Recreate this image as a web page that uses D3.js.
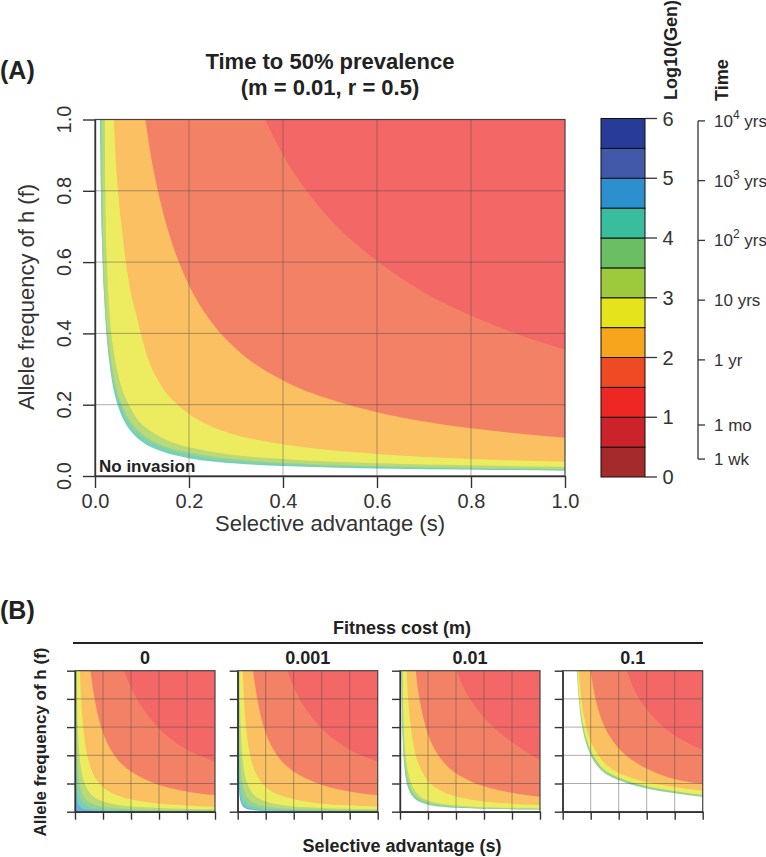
<!DOCTYPE html>
<html><head><meta charset="utf-8">
<script src="https://cdn.jsdelivr.net/npm/d3@7"></script>
<style>body{margin:0;background:#fff} svg text{font-family:Arial,"Liberation Sans",Helvetica,sans-serif}</style>
</head><body><svg id="c" width="766" height="857"></svg>
<script>
// ---------- data ----------
const legendBreaks = [0,0.5,1,1.5,2,2.5,3,3.5,4,4.5,5,5.5,6];
const legendColors = ["#A52A2B","#CC2229","#EE2624","#EE4B24","#F8A51E","#E5E41C","#9DC93C","#6BBF62","#38BD9D","#2B90CD","#4259A9","#283C97"];
const legendTicks = [0,1,2,3,4,5,6];
const timeTickValues = [5.96,4.96,3.96,2.96,1.96,0.87,0.30];
const timeTickLabels = [["10","4"," yrs"],["10","3"," yrs"],["10","2"," yrs"],["10 yrs"],["1 yr"],["1 mo"],["1 wk"]];
const axisTicks = [0,0.2,0.4,0.6,0.8,1.0];
const costLabels = ["0","0.001","0.01","0.1"];

// Panel A (m = 0.01): contour boundaries [s, f] for log10(Gen) levels
const A_45 = [[0.0105,1],[0.0125,0.8],[0.015,0.66],[0.02,0.49],[0.025,0.39],[0.03,0.325],[0.04,0.24],[0.05,0.192],[0.065,0.147],[0.08,0.12],[0.1,0.096],[0.14,0.07],[0.2,0.05],[0.3,0.035],[0.4,0.028],[0.56,0.0216],[0.7,0.019],[0.85,0.017],[1,0.015]];
const A_40 = [[0.012,1],[0.013,0.8],[0.016,0.62],[0.02,0.5],[0.03,0.34],[0.04,0.26],[0.054,0.2],[0.07,0.155],[0.09,0.122],[0.12,0.093],[0.16,0.072],[0.22,0.055],[0.3,0.042],[0.45,0.03],[0.6,0.025],[0.8,0.02],[1,0.017]];
const A_35 = [[0.015,1],[0.016,0.8],[0.018,0.64],[0.022,0.5],[0.03,0.37],[0.04,0.28],[0.05,0.225],[0.06,0.19],[0.08,0.145],[0.1,0.118],[0.14,0.088],[0.2,0.066],[0.3,0.047],[0.45,0.034],[0.6,0.028],[0.8,0.023],[1,0.02]];
const A_30 = [[0.021,1],[0.022,0.8],[0.025,0.62],[0.03,0.48],[0.04,0.35],[0.05,0.28],[0.06,0.235],[0.072,0.2],[0.09,0.16],[0.12,0.125],[0.16,0.097],[0.22,0.075],[0.3,0.058],[0.4,0.048],[0.6,0.036],[0.8,0.03],[1,0.026]];
const A_25 = [[0.04,1],[0.045,0.87],[0.055,0.72],[0.07,0.56],[0.09,0.44],[0.11,0.34],[0.14,0.255],[0.18,0.195],[0.22,0.157],[0.28,0.123],[0.35,0.1],[0.45,0.08],[0.6,0.062],[0.8,0.048],[1,0.04]];
const A_20 = [[0.107,1],[0.12,0.89],[0.14,0.765],[0.17,0.63],[0.2,0.535],[0.25,0.428],[0.3,0.357],[0.4,0.268],[0.5,0.215],[0.6,0.179],[0.7,0.153],[0.8,0.134],[0.9,0.119],[1,0.107]];
const A_15 = [[0.362,1],[0.4,0.9],[0.45,0.8],[0.5,0.72],[0.6,0.603],[0.7,0.515],[0.8,0.45],[0.9,0.397],[1,0.355]];

// Panel B, m = 0
const B0_45 = [[0.002,1],[0.003,0.5],[0.005,0.28],[0.008,0.17],[0.012,0.11],[0.02,0.065],[0.04,0.032],[0.08,0.016],[0.2,0.007],[0.5,0.003],[1,0.0015]];
const B0_40 = [[0.004,1],[0.006,0.6],[0.009,0.4],[0.013,0.27],[0.02,0.17],[0.03,0.115],[0.05,0.07],[0.08,0.044],[0.15,0.024],[0.3,0.012],[0.6,0.006],[1,0.004]];
const B0_35 = [[0.007,1],[0.009,0.75],[0.012,0.55],[0.016,0.41],[0.022,0.3],[0.03,0.22],[0.05,0.135],[0.08,0.085],[0.12,0.058],[0.2,0.035],[0.4,0.018],[0.7,0.011],[1,0.008]];
const B0_30 = [[0.012,1],[0.015,0.8],[0.02,0.62],[0.03,0.43],[0.05,0.27],[0.07,0.2],[0.1,0.14],[0.15,0.095],[0.2,0.072],[0.3,0.05],[0.5,0.031],[0.7,0.023],[1,0.017]];
const B0_25 = [[0.035,1],[0.04,0.87],[0.05,0.7],[0.07,0.5],[0.1,0.35],[0.14,0.25],[0.2,0.175],[0.3,0.117],[0.4,0.088],[0.6,0.058],[0.8,0.044],[1,0.035]];
const B0_20 = [[0.11,1],[0.13,0.86],[0.16,0.7],[0.2,0.56],[0.25,0.45],[0.3,0.375],[0.4,0.285],[0.5,0.23],[0.6,0.19],[0.7,0.163],[0.8,0.143],[0.9,0.128],[1,0.118]];
const B0_15 = [[0.35,1],[0.4,0.88],[0.5,0.71],[0.6,0.59],[0.7,0.505],[0.8,0.44],[0.9,0.393],[1,0.355]];

// Panel B, m = 0.001
const B1_50 = [[0.003,1],[0.004,0.5],[0.006,0.3],[0.01,0.16],[0.015,0.1],[0.025,0.06],[0.04,0.035],[0.08,0.015],[0.2,0.006],[1,0.002]];
const B1_45 = [[0.004,1],[0.005,0.6],[0.007,0.38],[0.011,0.22],[0.016,0.14],[0.025,0.085],[0.04,0.05],[0.08,0.024],[0.2,0.01],[0.5,0.005],[1,0.003]];
const B1_40 = [[0.005,1],[0.007,0.65],[0.01,0.44],[0.014,0.3],[0.02,0.2],[0.03,0.13],[0.05,0.08],[0.08,0.05],[0.15,0.027],[0.3,0.014],[0.6,0.008],[1,0.005]];
const B1_35 = [[0.008,1],[0.01,0.75],[0.013,0.56],[0.017,0.42],[0.023,0.31],[0.03,0.23],[0.05,0.14],[0.08,0.088],[0.12,0.06],[0.2,0.037],[0.4,0.019],[0.7,0.012],[1,0.009]];
const B1_30 = [[0.013,1],[0.016,0.8],[0.021,0.62],[0.03,0.44],[0.05,0.27],[0.07,0.2],[0.1,0.14],[0.15,0.095],[0.2,0.072],[0.3,0.05],[0.5,0.031],[0.7,0.023],[1,0.018]];
const B1_25 = [[0.036,1],[0.041,0.87],[0.051,0.7],[0.07,0.51],[0.1,0.355],[0.14,0.253],[0.2,0.177],[0.3,0.118],[0.4,0.089],[0.6,0.059],[0.8,0.045],[1,0.036]];
const B1_20 = [[0.11,1],[0.13,0.86],[0.16,0.7],[0.2,0.56],[0.25,0.45],[0.3,0.375],[0.4,0.285],[0.5,0.23],[0.6,0.19],[0.7,0.163],[0.8,0.143],[0.9,0.128],[1,0.118]];
const B1_15 = [[0.354,1],[0.4,0.885],[0.5,0.71],[0.6,0.59],[0.7,0.505],[0.8,0.44],[0.9,0.393],[1,0.355]];

// Panel B, m = 0.01
const B2_45 = [[0.011,1],[0.013,0.8],[0.016,0.63],[0.02,0.5],[0.03,0.33],[0.04,0.245],[0.05,0.195],[0.07,0.14],[0.1,0.098],[0.14,0.07],[0.2,0.05],[0.3,0.035],[0.5,0.024],[0.7,0.019],[1,0.015]];
const B2_40 = [[0.013,1],[0.015,0.8],[0.018,0.62],[0.023,0.48],[0.03,0.36],[0.04,0.27],[0.055,0.2],[0.07,0.155],[0.1,0.11],[0.14,0.079],[0.2,0.057],[0.3,0.04],[0.5,0.027],[0.7,0.021],[1,0.017]];
const B2_35 = [[0.016,1],[0.018,0.8],[0.021,0.64],[0.026,0.5],[0.033,0.38],[0.045,0.28],[0.06,0.21],[0.08,0.155],[0.11,0.115],[0.15,0.085],[0.2,0.065],[0.3,0.045],[0.5,0.03],[0.7,0.024],[1,0.02]];
const B2_30 = [[0.019,1],[0.021,0.82],[0.025,0.66],[0.03,0.53],[0.04,0.4],[0.05,0.32],[0.065,0.25],[0.085,0.19],[0.11,0.145],[0.15,0.105],[0.2,0.08],[0.3,0.056],[0.5,0.037],[0.7,0.029],[1,0.024]];
const B2_25 = [[0.048,1],[0.053,0.88],[0.062,0.75],[0.075,0.62],[0.09,0.51],[0.11,0.41],[0.14,0.32],[0.18,0.245],[0.23,0.19],[0.3,0.145],[0.4,0.108],[0.55,0.08],[0.75,0.06],[1,0.047]];
const B2_20 = [[0.112,1],[0.125,0.89],[0.145,0.77],[0.17,0.65],[0.2,0.55],[0.25,0.44],[0.3,0.365],[0.4,0.272],[0.5,0.218],[0.6,0.18],[0.7,0.154],[0.8,0.134],[0.9,0.118],[1,0.106]];
const B2_15 = [[0.405,1],[0.45,0.89],[0.5,0.8],[0.6,0.67],[0.7,0.57],[0.8,0.495],[0.9,0.425],[1,0.367]];

// Panel B, m = 0.1
const B3_45 = [[0.1,1],[0.11,0.86],[0.125,0.7],[0.15,0.55],[0.18,0.45],[0.2,0.4],[0.26,0.31],[0.36,0.24],[0.45,0.205],[0.6,0.165],[0.8,0.13],[1,0.104]];
const B3_30 = [[0.104,1],[0.114,0.86],[0.13,0.71],[0.155,0.57],[0.185,0.47],[0.21,0.415],[0.27,0.325],[0.37,0.255],[0.46,0.22],[0.6,0.18],[0.8,0.145],[1,0.118]];
const B3_25 = [[0.115,1],[0.126,0.87],[0.143,0.73],[0.17,0.6],[0.2,0.5],[0.23,0.44],[0.29,0.355],[0.39,0.28],[0.48,0.245],[0.6,0.21],[0.8,0.175],[1,0.149]];
const B3_20 = [[0.2,1],[0.22,0.87],[0.25,0.74],[0.3,0.6],[0.36,0.5],[0.43,0.42],[0.52,0.35],[0.62,0.295],[0.75,0.245],[0.88,0.215],[1,0.196]];
const B3_15 = [[0.457,1],[0.5,0.89],[0.56,0.78],[0.64,0.68],[0.72,0.6],[0.8,0.54],[0.9,0.485],[1,0.438]];

// ---------- drawing ----------
const svg = d3.select("#c");
const fillOf = L => d3.interpolateRgb("#ffffff", legendColors[Math.round(2*L-1)])(0.7);
const gridColor = "rgba(70,70,70,0.45)";

function drawPanel(id, xr, yr, bounds, baseLevel){
  const x = d3.scaleLinear().domain([0,1]).range(xr);
  const y = d3.scaleLinear().domain([0,1]).range(yr);
  const g = svg.append("g");
  g.append("clipPath").attr("id", id).append("rect")
    .attr("x", xr[0]).attr("y", yr[1]).attr("width", xr[1]-xr[0]).attr("height", yr[0]-yr[1]);
  const cg = g.append("g").attr("clip-path", `url(#${id})`);
  cg.append("rect").attr("x", xr[0]).attr("y", yr[1]).attr("width", xr[1]-xr[0]).attr("height", yr[0]-yr[1])
    .attr("fill", baseLevel ? fillOf(baseLevel) : "#fff");
  const line = d3.line().x(d => x(d[0])).y(d => y(d[1])).curve(d3.curveMonotoneX);
  bounds.forEach(b => {
    const d = line(b.pts);
    const p = "M" + x(b.pts[0][0]) + "," + y(1) + d.replace(/^M/, "L") + "L" + x(1) + "," + y(1) + "Z";
    cg.append("path").attr("d", p).attr("fill", fillOf(b.level));
  });
  axisTicks.slice(1, -1).forEach(t => {
    cg.append("line").attr("x1", x(t)).attr("x2", x(t)).attr("y1", yr[0]).attr("y2", yr[1]).attr("stroke", gridColor).attr("stroke-width", 1);
    cg.append("line").attr("x1", xr[0]).attr("x2", xr[1]).attr("y1", y(t)).attr("y2", y(t)).attr("stroke", gridColor).attr("stroke-width", 1);
  });
  g.append("rect").attr("x", xr[0]).attr("y", yr[1]).attr("width", xr[1]-xr[0]).attr("height", yr[0]-yr[1])
    .attr("fill", "none").attr("stroke", "#444").attr("stroke-width", 1.2);
  return {x, y, g};
}

// ----- Panel A -----
const A = drawPanel("clipA", [95, 565], [476, 119.5], [
  {level:4.5, pts:A_45},{level:4, pts:A_40},{level:3.5, pts:A_35},{level:3, pts:A_30},
  {level:2.5, pts:A_25},{level:2, pts:A_20},{level:1.5, pts:A_15}], null);

const axA = svg.append("g").attr("transform", "translate(0,476)")
  .call(d3.axisBottom(A.x).tickValues(axisTicks).tickSize(12).tickSizeOuter(0).tickPadding(6).tickFormat(d3.format(".1f")));
axA.selectAll("text").attr("font-size", 20).attr("fill", "#333");
axA.selectAll("line,path").attr("stroke", "#333").attr("stroke-width", 1.4);
const ayA = svg.append("g").attr("transform", "translate(95,0)")
  .call(d3.axisLeft(A.y).tickValues(axisTicks).tickSize(12).tickSizeOuter(0).tickFormat(""));
ayA.selectAll("line,path").attr("stroke", "#333").attr("stroke-width", 1.4);
axisTicks.forEach(t => {
  svg.append("text").attr("transform", `translate(71,${A.y(t)}) rotate(-90)`).attr("text-anchor", "middle")
    .attr("font-size", 20).attr("fill", "#333").text(d3.format(".1f")(t));
});
svg.append("text").attr("x", 330).attr("y", 531).attr("text-anchor", "middle").attr("font-size", 22).attr("fill", "#333").text("Selective advantage (s)");
svg.append("text").attr("transform", "translate(34,297) rotate(-90)").attr("text-anchor", "middle").attr("font-size", 22).attr("fill", "#333").text("Allele frequency of h (f)");
svg.append("text").attr("x", 330).attr("y", 69).attr("text-anchor", "middle").attr("font-size", 22).attr("font-weight", "bold").attr("fill", "#222").text("Time to 50% prevalence");
svg.append("text").attr("x", 330).attr("y", 95).attr("text-anchor", "middle").attr("font-size", 22).attr("font-weight", "bold").attr("fill", "#222").text("(m = 0.01, r = 0.5)");
svg.append("text").attr("x", 0).attr("y", 79).attr("font-size", 25).attr("font-weight", "bold").attr("fill", "#222").text("(A)");
svg.append("text").attr("x", 99).attr("y", 472).attr("font-size", 17).attr("font-weight", "bold").attr("fill", "#222").text("No invasion");

// ----- Legend -----
const ly = d3.scaleLinear().domain([0,6]).range([477, 118.5]);
const lg = svg.append("g");
legendColors.forEach((c, i) => {
  lg.append("rect").attr("x", 601).attr("width", 44)
    .attr("y", ly(legendBreaks[i+1])).attr("height", ly(legendBreaks[i]) - ly(legendBreaks[i+1]))
    .attr("fill", c).attr("stroke", "#111").attr("stroke-width", 1);
});
legendTicks.forEach(t => {
  lg.append("line").attr("x1", 645).attr("x2", 657).attr("y1", ly(t)).attr("y2", ly(t)).attr("stroke", "#333").attr("stroke-width", 1.3);
  lg.append("text").attr("x", 668).attr("y", ly(t) + 7).attr("text-anchor", "middle").attr("font-size", 20).attr("fill", "#333").text(t);
});
lg.append("line").attr("x1", 698).attr("x2", 698).attr("y1", ly(timeTickValues[0])).attr("y2", ly(timeTickValues[timeTickValues.length-1])).attr("stroke", "#333").attr("stroke-width", 1.3);
timeTickValues.forEach((v, i) => {
  lg.append("line").attr("x1", 698).attr("x2", 705).attr("y1", ly(v)).attr("y2", ly(v)).attr("stroke", "#333").attr("stroke-width", 1.3);
  const t = lg.append("text").attr("x", 714).attr("y", ly(v) + 6).attr("font-size", 17).attr("fill", "#333");
  const lab = timeTickLabels[i];
  if (lab.length === 3) {
    t.append("tspan").text(lab[0]);
    t.append("tspan").attr("dy", -8).attr("font-size", 12).text(lab[1]);
    t.append("tspan").attr("dy", 8).text(lab[2]);
  } else t.text(lab[0]);
});
svg.append("text").attr("transform", "translate(677,100) rotate(-90)").attr("font-size", 18).attr("font-weight", "bold").attr("fill", "#222").text("Log10(Gen)");
svg.append("text").attr("transform", "translate(728,101) rotate(-90)").attr("font-size", 18).attr("font-weight", "bold").attr("fill", "#222").text("Time");

// ----- Panel B -----
svg.append("text").attr("x", 0).attr("y", 619).attr("font-size", 25).attr("font-weight", "bold").attr("fill", "#222").text("(B)");
svg.append("text").attr("x", 402).attr("y", 634).attr("text-anchor", "middle").attr("font-size", 18).attr("font-weight", "bold").attr("fill", "#222").text("Fitness cost (m)");
svg.append("line").attr("x1", 73).attr("x2", 703).attr("y1", 643).attr("y2", 643).attr("stroke", "#222").attr("stroke-width", 2);
svg.append("text").attr("x", 402).attr("y", 852).attr("text-anchor", "middle").attr("font-size", 18).attr("font-weight", "bold").attr("fill", "#222").text("Selective advantage (s)");
svg.append("text").attr("transform", "translate(46,742) rotate(-90)").attr("text-anchor", "middle").attr("font-size", 17).attr("font-weight", "bold").attr("fill", "#222").text("Allele frequency of h (f)");

const panelX = [75, 237.7, 400, 562.7];
const panelBounds = [
  {base:5, b:[[4.5,B0_45],[4,B0_40],[3.5,B0_35],[3,B0_30],[2.5,B0_25],[2,B0_20],[1.5,B0_15]]},
  {base:null, b:[[5,B1_50],[4.5,B1_45],[4,B1_40],[3.5,B1_35],[3,B1_30],[2.5,B1_25],[2,B1_20],[1.5,B1_15]]},
  {base:null, b:[[4.5,B2_45],[4,B2_40],[3.5,B2_35],[3,B2_30],[2.5,B2_25],[2,B2_20],[1.5,B2_15]]},
  {base:null, b:[[4,B3_45],[3,B3_30],[2.5,B3_25],[2,B3_20],[1.5,B3_15]]}
];
panelX.forEach((px, i) => {
  const P = drawPanel("clipB" + i, [px, px + 140], [811.7, 670.7],
    panelBounds[i].b.map(d => ({level: d[0], pts: d[1]})), panelBounds[i].base);
  const ax = svg.append("g").attr("transform", "translate(0,811.7)")
    .call(d3.axisBottom(P.x).tickValues(axisTicks).tickSize(8).tickSizeOuter(0).tickFormat(""));
  ax.selectAll("line,path").attr("stroke", "#333").attr("stroke-width", 1.4);
  const ay = svg.append("g").attr("transform", `translate(${px},0)`)
    .call(d3.axisLeft(P.y).tickValues(axisTicks).tickSize(8).tickSizeOuter(0).tickFormat(""));
  ay.selectAll("line,path").attr("stroke", "#333").attr("stroke-width", 1.4);
  svg.append("text").attr("x", px + 70).attr("y", 664).attr("text-anchor", "middle").attr("font-size", 18).attr("font-weight", "bold").attr("fill", "#222").text(costLabels[i]);
});
</script></body></html>
